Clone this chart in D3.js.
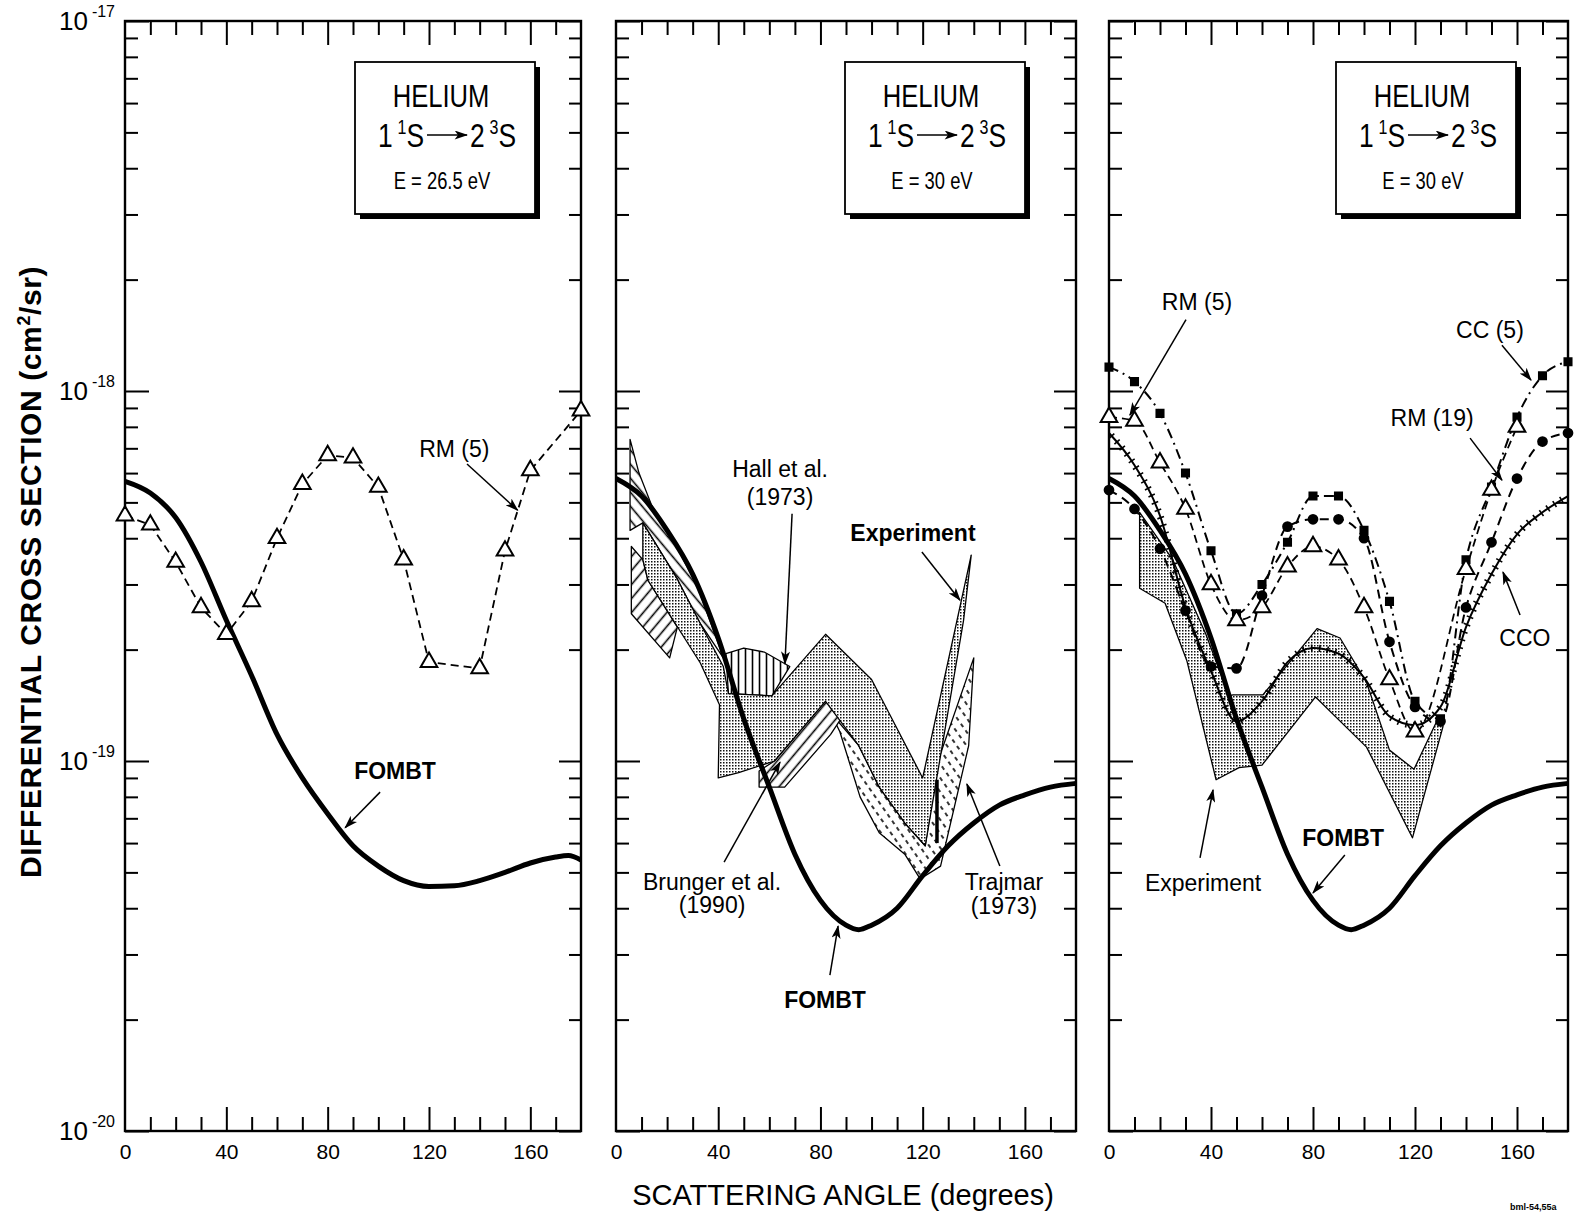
<!DOCTYPE html>
<html>
<head>
<meta charset="utf-8">
<script src="https://cdn.jsdelivr.net/npm/d3@7"></script>
<style>
  body { margin: 0; background: #fff; }
  text { font-family: 'Liberation Sans', Arial, sans-serif; fill: #000; }
</style>
</head>
<body>
<div id="chart"></div>
<script>
// Helium 1 1S -> 2 3S differential cross sections, three panels

// axis labels
const angleLabels = [0, 40, 80, 120, 160];
const decadeExps = [-17, -18, -19, -20];

// panel 1: E = 26.5 eV
const fombt26Angle = [0, 10, 20, 30, 40, 50, 60, 70, 80, 90, 100, 110, 120, 130, 140, 150, 160, 170, 175, 180];
const fombt26Value = [5.7e-19, 5.3e-19, 4.55e-19, 3.45e-19, 2.4e-19, 1.7e-19, 1.18e-19, 9.0e-20, 7.2e-20, 5.9e-20,
                      5.2e-20, 4.75e-20, 4.58e-20, 4.6e-20, 4.75e-20, 5.0e-20, 5.3e-20, 5.5e-20, 5.55e-20, 5.4e-20];
const rm5a26Angle = [0, 10, 20, 30, 40, 50, 60, 70, 80, 90, 100, 110, 120, 140, 150, 160, 180];
const rm5a26Value = [4.6e-19, 4.35e-19, 3.45e-19, 2.6e-19, 2.2e-19, 2.7e-19, 4.0e-19, 5.6e-19, 6.7e-19, 6.6e-19,
                     5.5e-19, 3.5e-19, 1.85e-19, 1.78e-19, 3.7e-19, 6.1e-19, 8.85e-19];

// panels 2 and 3: E = 30 eV
const fombt30Angle = [0, 10, 20, 30, 40, 50, 60, 70, 80, 90, 95, 100, 110, 120, 130, 140, 150, 160, 170, 180];
const fombt30Value = [5.8e-19, 5.2e-19, 4.2e-19, 3.2e-19, 2.15e-19, 1.3e-19, 8.5e-20, 5.6e-20, 4.2e-20, 3.6e-20,
                      3.5e-20, 3.6e-20, 4.0e-20, 4.9e-20, 5.9e-20, 6.8e-20, 7.6e-20, 8.1e-20, 8.5e-20, 8.7e-20];

// panel 2 measured bands (polygon outlines)
const expt2Angle = [10.5, 24, 33, 42, 44, 61, 82, 100, 120, 139, 136, 121, 113, 103, 95, 82, 62, 48, 40, 40.5, 33, 12.5, 10.5];
const expt2Value = [4.4e-19, 3.1e-19, 2.35e-19, 1.8e-19, 1.52e-19, 1.5e-19, 2.2e-19, 1.66e-19, 9.0e-20, 3.6e-19,
                    2.4e-19, 5.9e-20, 6.8e-20, 8.5e-20, 1.1e-19, 1.45e-19, 1.0e-19, 9.3e-20, 9.0e-20, 1.42e-19,
                    1.84e-19, 3.08e-19, 3.5e-19];
const hallAngle = [43, 50, 58, 68, 61, 44];
const hallValue = [1.95e-19, 2.02e-19, 1.97e-19, 1.8e-19, 1.5e-19, 1.52e-19];
const brungerAngle = [56, 62, 82, 88, 84, 66, 56];
const brungerValue = [9.4e-20, 1.0e-19, 1.46e-19, 1.3e-19, 1.18e-19, 8.5e-20, 8.5e-20];
const brungerLowAngle = [6, 10.5, 12.5, 24, 21, 6];
const brungerLowValue = [3.8e-19, 3.5e-19, 3.08e-19, 2.3e-19, 1.9e-19, 2.5e-19];
const trajmarAngle = [84, 95, 103, 113, 121, 126, 140, 138, 127, 119, 113, 103, 95.5, 87.6];
const trajmarValue = [1.35e-19, 1.1e-19, 8.5e-20, 6.8e-20, 5.9e-20, 1.0e-19, 1.9e-19, 1.1e-19, 5.2e-20, 4.8e-20,
                      5.6e-20, 6.4e-20, 8.0e-20, 1.2e-19];
const trajmarLowAngle = [5.5, 9, 14, 22, 32, 42, 33, 24, 10.5, 5.5];
const trajmarLowValue = [7.4e-19, 6.0e-19, 4.9e-19, 4.0e-19, 2.95e-19, 1.9e-19, 2.35e-19, 3.1e-19, 4.4e-19, 4.2e-19];
const trajmarBarAngle = [125.6, 125.6];
const trajmarBarValue = [8.9e-20, 6.0e-20];

// panel 3 theory curves and measured band
const rm5b30Angle = [0, 10, 20, 30, 40, 50, 60, 70, 80, 90, 100, 110, 120, 140, 150, 160];
const rm5b30Value = [8.5e-19, 8.3e-19, 6.4e-19, 4.8e-19, 3.0e-19, 2.4e-19, 2.6e-19, 3.35e-19, 3.8e-19, 3.5e-19,
                     2.6e-19, 1.66e-19, 1.2e-19, 3.3e-19, 5.4e-19, 8.0e-19];
const cc5Angle = [0, 10, 20, 30, 40, 50, 60, 70, 80, 90, 100, 110, 120, 130, 140, 150, 160, 170, 180];
const cc5Value = [1.16e-18, 1.06e-18, 8.7e-19, 6.0e-19, 3.7e-19, 2.5e-19, 3.0e-19, 3.9e-19, 5.2e-19, 5.2e-19,
                  4.2e-19, 2.7e-19, 1.45e-19, 1.3e-19, 3.5e-19, 5.5e-19, 8.5e-19, 1.1e-18, 1.2e-18];
const rm19Angle = [0, 10, 20, 30, 40, 50, 60, 70, 80, 90, 100, 110, 120, 130, 140, 150, 160, 170, 180];
const rm19Value = [5.4e-19, 4.8e-19, 3.75e-19, 2.55e-19, 1.8e-19, 1.78e-19, 2.8e-19, 4.3e-19, 4.5e-19, 4.5e-19,
                   4.0e-19, 2.1e-19, 1.4e-19, 1.28e-19, 2.6e-19, 3.9e-19, 5.8e-19, 7.3e-19, 7.7e-19];
const ccoAngle = [0, 10, 20, 30, 40, 50, 60, 70, 80, 90, 100, 110, 120, 130, 140, 150, 160, 170, 180];
const ccoValue = [7.7e-19, 6.3e-19, 4.6e-19, 2.6e-19, 1.75e-19, 1.28e-19, 1.45e-19, 1.85e-19, 2.02e-19, 1.95e-19,
                  1.68e-19, 1.32e-19, 1.25e-19, 1.4e-19, 2.3e-19, 3.2e-19, 4.1e-19, 4.7e-19, 5.2e-19];
const expt3Angle = [12, 25, 38, 47, 48.6, 60.4, 81.6, 90.6, 101, 110, 119.6, 129, 131, 119, 101, 81, 60, 51, 42, 30.5, 22, 12];
const expt3Value = [4.7e-19, 3.5e-19, 2.2e-19, 1.5e-19, 1.51e-19, 1.51e-19, 2.28e-19, 2.15e-19, 1.63e-19, 1.07e-19,
                    9.5e-20, 1.3e-19, 1.24e-19, 6.2e-20, 1.09e-19, 1.49e-19, 9.75e-20, 9.6e-20, 8.9e-20, 1.87e-19,
                    2.67e-19, 2.93e-19];

// ---------------------------------------------------------------
const W = 1575, H = 1216;
const yTop = 21, yBot = 1131;
const panelRange = [[125, 581], [616, 1076], [1109, 1568]];

const svg = d3.select('#chart').append('svg')
  .attr('width', W).attr('height', H)
  .style('background', '#fff');

const y = d3.scaleLog().domain([1e-20, 1e-17]).range([yBot, yTop]);
const xs = panelRange.map(r => d3.scaleLinear().domain([0, 180]).range(r));

// patterns and arrowhead
const defs = svg.append('defs');
const st = defs.append('pattern').attr('id', 'stipple')
  .attr('patternUnits', 'userSpaceOnUse').attr('width', 3).attr('height', 3);
st.append('rect').attr('width', 3).attr('height', 3).attr('fill', '#fff');
st.append('rect').attr('width', 1.5).attr('height', 1.5).attr('fill', '#111');

function hatch(id, angle, gap, dash) {
  const p = defs.append('pattern').attr('id', id)
    .attr('patternUnits', 'userSpaceOnUse')
    .attr('width', gap).attr('height', gap)
    .attr('patternTransform', `rotate(${angle})`);
  p.append('rect').attr('width', gap).attr('height', gap).attr('fill', '#fff');
  p.append('line').attr('x1', gap / 2).attr('x2', gap / 2).attr('y1', 0).attr('y2', gap)
    .attr('stroke', '#000').attr('stroke-width', 1.6)
    .attr('stroke-dasharray', dash || null);
}
hatch('diagR', 40, 9);
hatch('diagL', -40, 9);
hatch('vert', 0, 7);
hatch('dashed', -35, 8, '4,4');

defs.append('marker').attr('id', 'arrow')
  .attr('viewBox', '0 0 12 8').attr('refX', 11).attr('refY', 4)
  .attr('markerWidth', 14).attr('markerHeight', 9)
  .attr('markerUnits', 'userSpaceOnUse').attr('orient', 'auto')
  .append('path').attr('d', 'M0,0 L12,4 L0,8 L3,4 Z').attr('fill', '#000');

const pts = (a, v) => d3.zip(a, v);

// frame with inward ticks on all four sides
function drawFrame(x) {
  const g = svg.append('g');
  const minorX = d3.range(10, 180, 10).filter(v => v % 40 !== 0);
  const majorX = [40, 80, 120, 160];
  const decades = [1e-20, 1e-19, 1e-18, 1e-17];
  const minorY = [];
  [-20, -19, -18].forEach(e => d3.range(2, 10).forEach(m => minorY.push(m * Math.pow(10, e))));

  const put = (axis, tx, ty) => {
    const a = g.append('g').attr('transform', `translate(${tx},${ty})`).call(axis);
    a.select('.domain').remove();
    a.selectAll('.tick line').attr('stroke', '#000').attr('stroke-width', 2);
  };
  put(d3.axisBottom(x).tickValues(minorX).tickSize(14).tickFormat(''), 0, yTop);
  put(d3.axisBottom(x).tickValues(majorX).tickSize(24).tickFormat(''), 0, yTop);
  put(d3.axisTop(x).tickValues(minorX).tickSize(14).tickFormat(''), 0, yBot);
  put(d3.axisTop(x).tickValues(majorX).tickSize(24).tickFormat(''), 0, yBot);
  put(d3.axisRight(y).tickValues(minorY).tickSize(13).tickFormat(''), x(0), 0);
  put(d3.axisRight(y).tickValues(decades).tickSize(24).tickFormat(''), x(0), 0);
  put(d3.axisLeft(y).tickValues(minorY).tickSize(12).tickFormat(''), x(180), 0);
  put(d3.axisLeft(y).tickValues(decades).tickSize(22).tickFormat(''), x(180), 0);

  g.append('rect')
    .attr('x', x(0)).attr('y', yTop)
    .attr('width', x(180) - x(0)).attr('height', yBot - yTop)
    .attr('fill', 'none').attr('stroke', '#000').attr('stroke-width', 2.4);

  const lab = g.append('g').attr('transform', `translate(0,${yBot})`)
    .call(d3.axisBottom(x).tickValues(angleLabels).tickSize(0).tickPadding(13).tickFormat(d3.format('d')));
  lab.select('.domain').remove();
  lab.selectAll('text').attr('font-size', 21).attr('font-family', "'Liberation Sans', Arial, sans-serif");
}

function band(x, a, v, fill) {
  svg.append('path')
    .datum(pts(a, v))
    .attr('d', d3.line().x(d => x(d[0])).y(d => y(d[1])).curve(d3.curveLinearClosed))
    .attr('fill', fill).attr('stroke', '#000').attr('stroke-width', 1.3)
    .attr('stroke-linejoin', 'round');
}

function curve(x, a, v, opts) {
  return svg.append('path')
    .datum(pts(a, v))
    .attr('d', d3.line().x(d => x(d[0])).y(d => y(d[1])).curve(opts.curve || d3.curveLinear))
    .attr('fill', 'none').attr('stroke', '#000')
    .attr('stroke-width', opts.width || 2)
    .attr('stroke-dasharray', opts.dash || null)
    .attr('stroke-linejoin', 'round');
}

function symbols(x, a, v, type, size, fill) {
  svg.append('g').selectAll('path')
    .data(pts(a, v))
    .join('path')
    .attr('transform', d => `translate(${x(d[0])},${y(d[1])})`)
    .attr('d', d3.symbol().type(type).size(size))
    .attr('fill', fill).attr('stroke', '#000').attr('stroke-width', 2);
}

// small cross ticks along a path, CCO line style
function tickAlong(path, step, len) {
  const node = path.node();
  const total = node.getTotalLength();
  const g = svg.append('g');
  for (let s = 4; s < total - 2; s += step) {
    const p = node.getPointAtLength(s);
    const q = node.getPointAtLength(Math.min(total, s + 1));
    const ang = Math.atan2(q.y - p.y, q.x - p.x) + Math.PI / 2;
    g.append('line')
      .attr('x1', p.x - Math.cos(ang) * len / 2).attr('y1', p.y - Math.sin(ang) * len / 2)
      .attr('x2', p.x + Math.cos(ang) * len / 2).attr('y2', p.y + Math.sin(ang) * len / 2)
      .attr('stroke', '#000').attr('stroke-width', 1.6);
  }
}

function label(x, deg, val, txt, bold, size) {
  svg.append('text')
    .attr('x', x(deg)).attr('y', y(val)).attr('dy', '0.36em')
    .attr('text-anchor', 'middle')
    .attr('font-size', size || 23)
    .attr('font-weight', bold ? 'bold' : 'normal')
    .text(txt);
}

function arrow(x, a0, v0, a1, v1, head) {
  svg.append('line')
    .attr('x1', x(a0)).attr('y1', y(v0)).attr('x2', x(a1)).attr('y2', y(v1))
    .attr('stroke', '#000').attr('stroke-width', 1.5)
    .attr('marker-end', head === false ? null : 'url(#arrow)');
}

// condensed text: regular face squeezed horizontally
function narrowText(px, py, anchor, size) {
  return svg.append('g')
    .attr('transform', `translate(${px},${py}) scale(0.8,1)`)
    .append('text').attr('text-anchor', anchor).attr('font-size', size);
}

// title box with drop shadow
function infoBox(left, energy) {
  const w = 180, h = 152, top = 62, cx = left + w / 2;
  svg.append('rect').attr('x', left + 5).attr('y', top + 5).attr('width', w).attr('height', h).attr('fill', '#000');
  svg.append('rect').attr('x', left).attr('y', top).attr('width', w).attr('height', h)
    .attr('fill', '#fff').attr('stroke', '#000').attr('stroke-width', 1.8);
  narrowText(cx - 4, top + 45, 'middle', 32).text('HELIUM');
  const l = narrowText(cx - 21, top + 85, 'end', 33);
  l.append('tspan').text('1');
  l.append('tspan').attr('dy', -13).attr('font-size', 20).attr('dx', 6).text('1');
  l.append('tspan').attr('dy', 13).text('S');
  svg.append('line').attr('x1', cx - 18).attr('x2', cx + 22).attr('y1', top + 73).attr('y2', top + 73)
    .attr('stroke', '#000').attr('stroke-width', 1.6).attr('marker-end', 'url(#arrow)');
  const r = narrowText(cx + 25, top + 85, 'start', 33);
  r.append('tspan').text('2');
  r.append('tspan').attr('dy', -13).attr('font-size', 20).attr('dx', 6).text('3');
  r.append('tspan').attr('dy', 13).text('S');
  narrowText(cx - 3, top + 127, 'middle', 23).text(`E = ${energy} eV`);
}

// ---------------- panel 1 ----------------
const x1 = xs[0];
drawFrame(x1);
curve(x1, rm5a26Angle, rm5a26Value, { dash: '8,5', width: 1.8 });
curve(x1, fombt26Angle, fombt26Value, { width: 5, curve: d3.curveMonotoneX });
symbols(x1, rm5a26Angle, rm5a26Value, d3.symbolTriangle, 120, '#fff');
infoBox(355, '26.5');
label(x1, 130, 7.0e-19, 'RM (5)');
arrow(x1, 135, 6.35e-19, 155, 4.76e-19);
label(x1, 106.6, 9.4e-20, 'FOMBT', true);
arrow(x1, 100.7, 8.24e-20, 86.9, 6.6e-20);

// ---------------- panel 2 ----------------
const x2 = xs[1];
drawFrame(x2);
band(x2, trajmarLowAngle, trajmarLowValue, 'url(#diagL)');
band(x2, brungerLowAngle, brungerLowValue, 'url(#diagR)');
band(x2, trajmarAngle, trajmarValue, 'url(#dashed)');
band(x2, brungerAngle, brungerValue, 'url(#diagR)');
band(x2, hallAngle, hallValue, 'url(#vert)');
band(x2, expt2Angle, expt2Value, 'url(#stipple)');
curve(x2, trajmarBarAngle, trajmarBarValue, { width: 3.5 });
curve(x2, fombt30Angle, fombt30Value, { width: 5, curve: d3.curveMonotoneX });
infoBox(845, '30');
label(x2, 64.2, 6.15e-19, 'Hall et al.');
label(x2, 64.2, 5.18e-19, '(1973)');
arrow(x2, 68.9, 4.66e-19, 66.1, 1.83e-19);
label(x2, 116.2, 4.13e-19, 'Experiment', true);
arrow(x2, 119.7, 3.67e-19, 134.6, 2.72e-19);
label(x2, 37.6, 4.71e-20, 'Brunger et al.');
label(x2, 37.6, 4.08e-20, '(1990)');
arrow(x2, 42.3, 5.33e-20, 64.2, 9.93e-20);
label(x2, 151.8, 4.71e-20, 'Trajmar');
label(x2, 151.8, 4.06e-20, '(1973)');
arrow(x2, 150.2, 5.2e-20, 137.3, 8.67e-20);
label(x2, 81.8, 2.26e-20, 'FOMBT', true);
arrow(x2, 83.7, 2.64e-20, 86.9, 3.58e-20);

// ---------------- panel 3 ----------------
const x3 = xs[2];
drawFrame(x3);
band(x3, expt3Angle, expt3Value, 'url(#stipple)');
curve(x3, fombt30Angle, fombt30Value, { width: 5, curve: d3.curveMonotoneX });
const ccoPath = curve(x3, ccoAngle, ccoValue, { width: 2, curve: d3.curveMonotoneX });
tickAlong(ccoPath, 8, 7);
curve(x3, rm19Angle, rm19Value, { dash: '9,6', width: 2, curve: d3.curveMonotoneX });
curve(x3, cc5Angle, cc5Value, { dash: '10,5,2,5', width: 2, curve: d3.curveMonotoneX });
curve(x3, rm5b30Angle, rm5b30Value, { dash: '8,5', width: 1.8, curve: d3.curveMonotoneX });
symbols(x3, rm19Angle, rm19Value, d3.symbolCircle, 60, '#000');
symbols(x3, cc5Angle, cc5Value, d3.symbolSquare, 50, '#000');
symbols(x3, rm5b30Angle, rm5b30Value, d3.symbolTriangle, 120, '#fff');
infoBox(1336, '30');
label(x3, 34.5, 1.74e-18, 'RM (5)');
arrow(x3, 30.2, 1.56e-18, 8.2, 8.61e-19);
label(x3, 149.4, 1.46e-18, 'CC (5)');
arrow(x3, 154.1, 1.33e-18, 165.5, 1.07e-18);
label(x3, 126.7, 8.45e-19, 'RM (19)');
arrow(x3, 141.6, 7.46e-19, 154.1, 5.74e-19);
label(x3, 163.1, 2.16e-19, 'CCO');
arrow(x3, 161.2, 2.48e-19, 154.5, 3.24e-19);
label(x3, 36.9, 4.68e-20, 'Experiment');
arrow(x3, 35.7, 5.47e-20, 40.8, 8.36e-20);
label(x3, 91.8, 6.19e-20, 'FOMBT', true);
arrow(x3, 92.5, 5.57e-20, 80, 4.4e-20);

// ---------------- shared labels ----------------
decadeExps.forEach(e => {
  const t = svg.append('text')
    .attr('x', 115).attr('y', y(Math.pow(10, e)) + 9)
    .attr('text-anchor', 'end').attr('font-size', 26);
  t.append('tspan').text('10');
  t.append('tspan').attr('dy', -13).attr('dx', 4).attr('font-size', 16).text(String(e));
});

const yt = svg.append('text')
  .attr('transform', 'translate(41,572) rotate(-90)')
  .attr('text-anchor', 'middle').attr('font-size', 30).attr('font-weight', 'bold')
  .attr('letter-spacing', 0.6);
yt.append('tspan').text('DIFFERENTIAL CROSS SECTION (cm');
yt.append('tspan').attr('dy', -11).attr('font-size', 18).text('2');
yt.append('tspan').attr('dy', 11).text('/sr)');

svg.append('text')
  .attr('x', 843).attr('y', 1205)
  .attr('text-anchor', 'middle').attr('font-size', 29)
  .text('SCATTERING ANGLE (degrees)');

svg.append('text')
  .attr('x', 1510).attr('y', 1210)
  .attr('font-size', 9).attr('font-weight', 'bold')
  .text('bml-54,55a');
</script>
</body>
</html>
